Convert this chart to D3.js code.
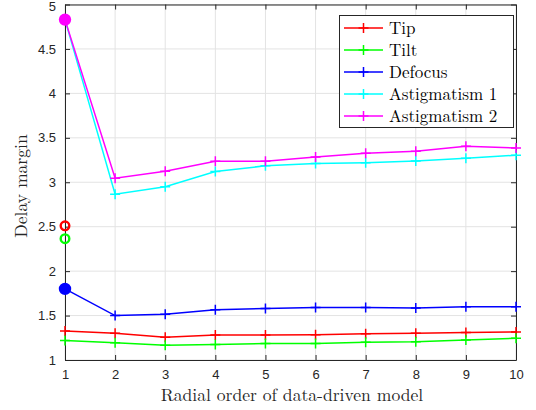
<!DOCTYPE html>
<html><head><meta charset="utf-8">
<script src="https://cdn.jsdelivr.net/npm/d3@7"></script>
<style>body{margin:0;background:#fff}svg{display:block}</style>
</head><body><svg id="c" width="536" height="410"></svg>
<script>
const orders = [1,2,3,4,5,6,7,8,9,10];
const seriesNames = ["Tip","Tilt","Defocus","Astigmatism 1","Astigmatism 2"];
const seriesColors = ["#ff0000","#00ff00","#0000ff","#00ffff","#ff00ff"];
const tipValues   = [1.325,1.30,1.255,1.28,1.28,1.285,1.295,1.30,1.31,1.315];
const tiltValues  = [1.22,1.195,1.165,1.175,1.185,1.185,1.20,1.205,1.225,1.245];
const defocusValues = [1.80,1.50,1.515,1.565,1.58,1.59,1.59,1.585,1.60,1.60];
const astig1Values = [4.83,2.865,2.95,3.12,3.185,3.21,3.22,3.24,3.27,3.305];
const astig2Values = [4.83,3.045,3.125,3.235,3.235,3.285,3.325,3.35,3.405,3.385];
// circle markers at order 1
const circleValues = [2.51,2.365,1.80,4.83,4.83];
const circleFilled = [false,false,true,true,true];
const xTicks = [1,2,3,4,5,6,7,8,9,10];
const yTicks = [1,1.5,2,2.5,3,3.5,4,4.5,5];
const xLabel = "Radial order of data-driven model";
const yLabel = "Delay margin";

const allValues = [tipValues,tiltValues,defocusValues,astig1Values,astig2Values];
const svg = d3.select("#c");
const L=65,R=516,T=4.5,B=360;
const x = d3.scaleLinear().domain([1,10]).range([L,R]);
const y = d3.scaleLinear().domain([1,5]).range([B,T]);
const tickFont = "'Liberation Sans', Arial, Helvetica, sans-serif";
const serif = "'Latin Modern Roman','CMU Serif','Liberation Serif',serif";

// grid
const g = svg.append("g");
g.selectAll(".gx").data(xTicks).join("line").attr("x1",d=>x(d)).attr("x2",d=>x(d)).attr("y1",T).attr("y2",B).attr("stroke","#e3e3e3").attr("stroke-width",1);
g.selectAll(".gy").data(yTicks).join("line").attr("y1",d=>y(d)).attr("y2",d=>y(d)).attr("x1",L).attr("x2",R).attr("stroke","#e3e3e3").attr("stroke-width",1);

// axes
const ax = d3.axisBottom(x).tickValues(xTicks).tickSizeInner(-5).tickSizeOuter(0).tickPadding(10).tickFormat(d3.format("d"));
const ay = d3.axisLeft(y).tickValues(yTicks).tickSizeInner(-5).tickSizeOuter(0).tickPadding(9).tickFormat(d=>d3.format("")(d));
const axT = d3.axisTop(x).tickValues(xTicks).tickSizeInner(-5).tickSizeOuter(0).tickFormat("");
const ayR = d3.axisRight(y).tickValues(yTicks).tickSizeInner(-5).tickSizeOuter(0).tickFormat("");
function style(sel){sel.selectAll("path").attr("stroke","#262626");sel.selectAll("line").attr("stroke","#262626");sel.selectAll("text").attr("fill","#262626").style("font-family",tickFont).style("font-size","13px");}
svg.append("g").attr("transform",`translate(0,${B})`).call(ax).call(style);
const yAxG = svg.append("g").attr("transform",`translate(${L},0)`).call(ay).call(style);
yAxG.selectAll(".tick").filter(d=>d===5).select("text").attr("dy","0.45em");
svg.append("g").attr("transform",`translate(0,${T})`).call(axT).call(style);
svg.append("g").attr("transform",`translate(${R},0)`).call(ayR).call(style);

// lines
const line = d3.line().x((d,i)=>x(orders[i])).y(d=>y(d));
allValues.forEach((vals,k)=>{
  svg.append("path").attr("d",line(vals)).attr("fill","none").attr("stroke",seriesColors[k]).attr("stroke-width",1.5);
  svg.append("g").selectAll("path").data(vals).join("path")
    .attr("d",(d,i)=>{const cx=x(orders[i]),cy=y(d);return `M${cx-5},${cy}H${cx+5}M${cx},${cy-5}V${cy+5}`;})
    .attr("stroke",seriesColors[k]).attr("stroke-width",1.5);
});
// circles
circleValues.forEach((v,k)=>{
  if(k===3) return;
  svg.append("circle").attr("cx",x(1)).attr("cy",y(v)).attr("r",circleFilled[k]?5:4.3)
    .attr("fill",circleFilled[k]?seriesColors[k]:"none").attr("stroke",seriesColors[k]).attr("stroke-width",2.4);
});

// labels
svg.append("text").attr("x",292).attr("y",401).attr("text-anchor","middle").style("font-family",serif).style("font-size","17.6px").attr("fill","#262626").text(xLabel);
svg.append("text").attr("transform",`translate(27,186) rotate(-90)`).attr("text-anchor","middle").style("font-family",serif).style("font-size","17.6px").attr("fill","#262626").text(yLabel);

// legend
const lg = svg.append("g");
lg.append("rect").attr("x",339.5).attr("y",15.5).attr("width",174).attr("height",112).attr("fill","#fff").attr("stroke","#262626").attr("stroke-width",1);
seriesNames.forEach((n,k)=>{
  const yy = 28 + k*22;
  lg.append("line").attr("x1",344).attr("x2",383).attr("y1",yy).attr("y2",yy).attr("stroke",seriesColors[k]).attr("stroke-width",1.5);
  lg.append("path").attr("d",`M${358.5},${yy}H${368.5}M${363.5},${yy-5}V${yy+5}`).attr("stroke",seriesColors[k]).attr("stroke-width",1.5);
  lg.append("text").attr("x",389).attr("y",yy+5.5).style("font-family",serif).style("font-size","17px").attr("fill","#000").text(n);
});
</script></body></html>
